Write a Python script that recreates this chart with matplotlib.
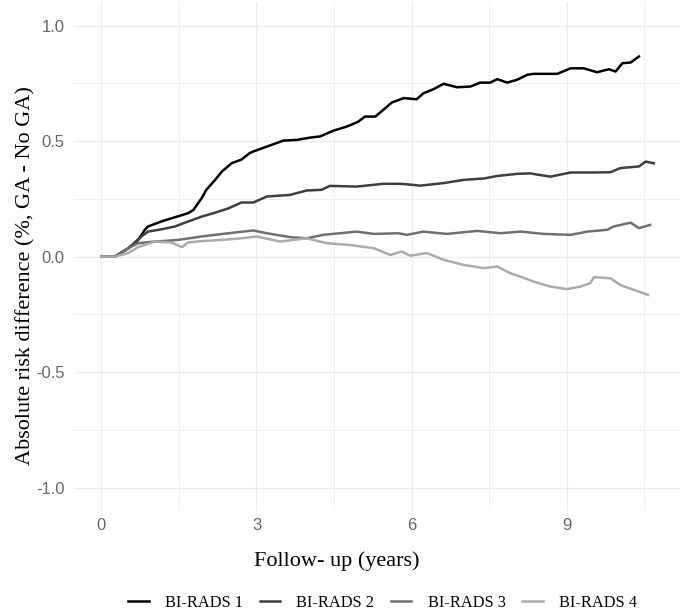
import matplotlib.pyplot as plt
from matplotlib.ticker import MultipleLocator

### values (follow-up years, risk difference %)
birads1_x = [0, 0.26, 0.52, 0.71, 0.84, 0.90, 1.16, 1.42, 1.68, 1.78, 1.94, 2.03,
             2.20, 2.33, 2.52, 2.71, 2.87, 2.94, 3.20, 3.52, 3.78, 4.04, 4.23,
             4.49, 4.75, 4.97, 5.10, 5.30, 5.49, 5.62, 5.85, 6.10, 6.23, 6.43,
             6.62, 6.88, 7.14, 7.33, 7.52, 7.66, 7.85, 8.04, 8.24, 8.36, 8.82,
             9.08, 9.33, 9.59, 9.82, 9.95, 10.08, 10.24, 10.40]
birads1_y = [0, 0, 0.036, 0.072, 0.116, 0.130, 0.152, 0.170, 0.188, 0.202, 0.253,
             0.289, 0.332, 0.368, 0.404, 0.420, 0.448, 0.455, 0.476, 0.502, 0.505,
             0.515, 0.520, 0.545, 0.563, 0.584, 0.606, 0.606, 0.642, 0.667, 0.686,
             0.681, 0.707, 0.725, 0.748, 0.733, 0.736, 0.753, 0.753, 0.768, 0.753,
             0.765, 0.787, 0.791, 0.791, 0.815, 0.815, 0.798, 0.811, 0.801, 0.837,
             0.840, 0.866]

birads2_x = [0, 0.26, 0.52, 0.775, 0.90, 1.16, 1.42, 1.68, 1.94, 2.20, 2.46, 2.71,
             2.94, 3.20, 3.65, 3.97, 4.26, 4.42, 4.94, 5.46, 5.75, 5.85, 6.17,
             6.62, 7.01, 7.40, 7.66, 8.04, 8.30, 8.43, 8.69, 9.08, 9.53, 9.85,
             10.04, 10.40, 10.53, 10.69]
birads2_y = [0, 0, 0.036, 0.087, 0.108, 0.118, 0.130, 0.152, 0.173, 0.190, 0.209,
             0.234, 0.234, 0.260, 0.267, 0.286, 0.289, 0.306, 0.303, 0.315, 0.315,
             0.314, 0.307, 0.318, 0.332, 0.338, 0.349, 0.358, 0.360, 0.355, 0.346,
             0.364, 0.364, 0.365, 0.383, 0.390, 0.411, 0.404]

birads3_x = [0, 0.26, 0.52, 0.71, 1.03, 1.48, 1.94, 2.46, 2.94, 3.20, 3.65, 3.97,
             4.29, 4.62, 4.94, 5.27, 5.75, 5.91, 6.23, 6.68, 7.27, 7.72, 8.11,
             8.30, 8.56, 9.08, 9.40, 9.79, 9.91, 10.24, 10.40, 10.62]
birads3_y = [0, 0, 0.036, 0.058, 0.065, 0.072, 0.087, 0.101, 0.113, 0.101, 0.084,
             0.079, 0.094, 0.101, 0.108, 0.098, 0.101, 0.094, 0.108, 0.098, 0.111,
             0.101, 0.108, 0.104, 0.098, 0.094, 0.108, 0.116, 0.130, 0.147, 0.123,
             0.137]

birads4_x = [0, 0.26, 0.52, 0.71, 1.03, 1.35, 1.56, 1.68, 1.94, 2.33, 2.71, 3.00,
             3.46, 3.97, 4.36, 4.81, 5.27, 5.59, 5.81, 5.97, 6.30, 6.62, 7.01,
             7.40, 7.66, 7.91, 8.11, 8.36, 8.69, 9.01, 9.27, 9.46, 9.53, 9.85,
             10.04, 10.30, 10.58]
birads4_y = [0, 0, 0.015, 0.041, 0.065, 0.061, 0.041, 0.061, 0.067, 0.072, 0.079,
             0.087, 0.065, 0.079, 0.058, 0.050, 0.036, 0.007, 0.022, 0.004, 0.015,
             -0.014, -0.036, -0.050, -0.043, -0.072, -0.087, -0.108, -0.130,
             -0.141, -0.130, -0.115, -0.089, -0.094, -0.123, -0.144, -0.166]

labels = ["BI-RADS 1", "BI-RADS 2", "BI-RADS 3", "BI-RADS 4"]
colors = ["#000000", "#3e3e3e", "#707070", "#ababab"]

serif = ["Liberation Serif", "DejaVu Serif"]
sans = ["Liberation Sans", "DejaVu Sans"]

fig = plt.figure(figsize=(6.92, 6.16), dpi=100)
ax = fig.add_axes([0.107, 0.171, 0.876, 0.825])

series = [(birads1_x, birads1_y), (birads2_x, birads2_y),
          (birads3_x, birads3_y), (birads4_x, birads4_y)]
for (xs, ys), lab, col in zip(series, labels, colors):
    ax.plot(xs, ys, color=col, lw=1.8, label=lab)

ax.set_xlim(-0.53, 11.2)
ax.set_ylim(-1.1, 1.1)
ax.xaxis.set_minor_locator(MultipleLocator(1.5))
ax.yaxis.set_minor_locator(MultipleLocator(0.25))
ax.set_xticks([0, 3, 6, 9])
ax.set_xticklabels(["0", "3", "6", "9"])
ax.set_yticks([-1.0, -0.5, 0.0, 0.5, 1.0])
ax.set_yticklabels(["-1.0", "-0.5", "0.0", "0.5", "1.0"])

ax.grid(which="major", color="#ebebeb", lw=1.0)
ax.grid(which="minor", color="#ebebeb", lw=0.6)
ax.set_axisbelow(True)
for s in ax.spines.values():
    s.set_visible(False)
ax.tick_params(which="both", length=0)
ax.tick_params(axis="x", pad=5)
ax.tick_params(axis="y", pad=7)
for t in ax.get_xticklabels() + ax.get_yticklabels():
    t.set_family(sans)
    t.set_fontsize(12)
    t.set_color("#666666")

# axis titles sit a bit off the panel centre in the reference
fig.text(0.487, 0.089, "Follow- up (years)", family=serif, fontsize=16,
         ha="center", va="center")
fig.text(0.037, 0.553, "Absolute risk difference (%, GA - No GA)", family=serif,
         fontsize=16, rotation=90, ha="center", va="center")

fig.legend(loc="center", bbox_to_anchor=(0.553, 0.021), ncol=4, frameon=False,
           handlelength=1.25, handletextpad=1.0, columnspacing=1.0,
           prop={"family": serif, "size": 11.8})

fig.savefig("out.png", dpi=100)
